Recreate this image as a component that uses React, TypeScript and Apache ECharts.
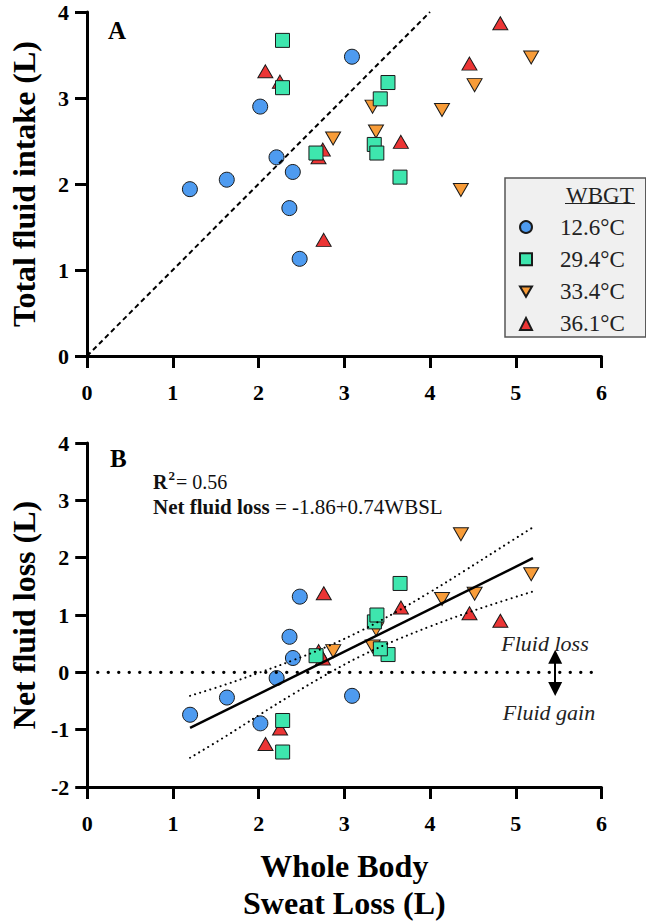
import React, { useEffect, useRef } from 'react';
import * as echarts from 'echarts';

const FONT = 'Liberation Serif, Times New Roman, serif';

// WBGT groups
const groups = ['12.6°C', '29.4°C', '33.4°C', '36.1°C'];
const groupColors = ['#4E9BF0', '#3EE6AE', '#F89C38', '#EC3535'];

// 12.6 °C
const sweat126 = [1.2, 1.63, 2.02, 2.21, 2.4, 2.36, 2.48, 3.09];
const intake126 = [1.94, 2.05, 2.9, 2.31, 2.14, 1.72, 1.13, 3.48];
const net126 = [-0.74, -0.44, -0.89, -0.1, 0.25, 0.62, 1.32, -0.41];
// 29.4 °C
const sweat294 = [2.28, 2.28, 2.67, 3.51, 3.42, 3.35, 3.38, 3.65];
const intake294 = [3.67, 3.12, 2.36, 3.18, 2.99, 2.46, 2.36, 2.08];
const net294 = [-1.39, -0.84, 0.29, 0.31, 0.41, 0.88, 1.0, 1.55];
// 33.4 °C
const sweat334 = [2.87, 3.33, 3.37, 4.14, 4.36, 4.52, 5.18];
const intake334 = [2.53, 2.9, 2.61, 2.86, 1.93, 3.15, 3.47];
const net334 = [0.37, 0.45, 0.75, 1.28, 2.41, 1.37, 1.71];
// 36.1 °C
const sweat361 = [2.08, 2.25, 2.7, 2.75, 2.76, 3.66, 4.46, 4.82];
const intake361 = [3.31, 3.19, 2.31, 2.4, 1.35, 2.49, 3.4, 3.87];
const net361 = [-1.25, -0.98, 0.37, 0.24, 1.38, 1.13, 1.03, 0.9];

// identity line (panel A)
const identityX = [0, 4];
const identityY = [0, 4];

// regression line and 95% band (panel B)
const fitX = [1.2, 5.2];
const fitY = [-0.97, 1.99];
const bandX = [1.2, 1.6, 2.0, 2.4, 2.8, 3.2, 3.6, 4.0, 4.4, 4.8, 5.2];
const bandUpper = [-0.41, -0.22, -0.01, 0.21, 0.45, 0.73, 1.05, 1.4, 1.77, 2.15, 2.53];
const bandLower = [-1.49, -1.13, -0.75, -0.38, -0.03, 0.29, 0.56, 0.8, 1.02, 1.22, 1.41];

// zero reference line and arrow (panel B)
const zeroX = [0, 5.92];
const zeroY = [0, 0];
const arrowX = 5.46;
const arrowY = [0.27, -0.29];

// axes
const xTicks = { min: 0, max: 6, interval: 1 };
const yTicksA = { min: 0, max: 4, interval: 1 };
const yTicksB = { min: -2, max: 4, interval: 1 };

const pairs = (xs: number[], ys: number[]) => xs.map((x, i) => [x, ys[i]]);

const DOWN_TRI = 'path://M0,0L10,0L5,8.66Z';

const symbolFor = [
  { symbol: 'circle', size: 15 },
  { symbol: 'rect', size: 14 },
  { symbol: DOWN_TRI, size: [15, 13] },
  { symbol: 'triangle', size: [15, 13] },
];

function scatter(g: number, idx: number, xs: number[], ys: number[]) {
  return {
    type: 'scatter',
    name: groups[g],
    xAxisIndex: idx,
    yAxisIndex: idx,
    data: pairs(xs, ys),
    symbol: symbolFor[g].symbol,
    symbolSize: symbolFor[g].size,
    itemStyle: { color: groupColors[g], borderColor: '#1a1a1a', borderWidth: 1, opacity: 1 },
    emphasis: { disabled: true },
    z: 2,
  };
}

function axisCommon() {
  return {
    type: 'value',
    axisLine: { show: true, onZero: false, lineStyle: { color: '#000', width: 3 } },
    axisTick: { show: true, inside: false, length: 12, lineStyle: { color: '#000', width: 3 } },
    splitLine: { show: false },
  };
}

const xLabel = { fontFamily: FONT, fontWeight: 'bold', fontSize: 22, color: '#000', margin: 25 };
const yLabel = { fontFamily: FONT, fontWeight: 'bold', fontSize: 22, color: '#000', margin: 18 };
const titleStyle = { fontFamily: FONT, fontWeight: 'bold', fontSize: 32, color: '#000' };

const txt = (text: string, x: number, y: number, font: string, align = 'left', fill = '#111') => ({
  type: 'text',
  z: 100,
  x,
  y,
  style: { text, font, fill, align, verticalAlign: 'middle', textAlign: align, textVerticalAlign: 'middle' },
});

function buildOption() {
  return {
    animation: false,
    backgroundColor: '#fff',
    textStyle: { fontFamily: FONT },
    grid: [
      { left: 85.5, top: 12, width: 516, height: 344 },
      { left: 85.5, top: 443, width: 516, height: 344 },
    ],
    xAxis: [
      { ...axisCommon(), gridIndex: 0, ...xTicks, axisLabel: xLabel },
      {
        ...axisCommon(),
        gridIndex: 1,
        ...xTicks,
        axisLabel: xLabel,
        name: 'Whole Body\nSweat Loss (L)',
        nameLocation: 'middle',
        nameGap: 60,
        nameTextStyle: { ...titleStyle, lineHeight: 37 },
      },
    ],
    yAxis: [
      {
        ...axisCommon(),
        gridIndex: 0,
        ...yTicksA,
        axisLabel: yLabel,
        name: 'Total fluid intake (L)',
        nameLocation: 'middle',
        nameGap: 47,
        nameTextStyle: titleStyle,
      },
      {
        ...axisCommon(),
        gridIndex: 1,
        ...yTicksB,
        axisLabel: yLabel,
        name: 'Net fluid loss (L)',
        nameLocation: 'middle',
        nameGap: 47,
        nameTextStyle: titleStyle,
      },
    ],
    legend: {
      orient: 'vertical',
      left: 505,
      top: 178,
      data: groups,
      itemWidth: 12,
      itemHeight: 12,
      itemGap: 8.3,
      padding: [37, 21, 1, 14],
      backgroundColor: '#f0f0f0',
      borderColor: '#555',
      borderWidth: 1.5,
      borderRadius: 0,
      selectedMode: false,
      textStyle: { fontFamily: FONT, fontSize: 23, color: '#222', lineHeight: 24, padding: [0, 0, 0, 23] },
    },
    series: [
      // panel A
      scatter(3, 0, sweat361, intake361),
      scatter(2, 0, sweat334, intake334),
      scatter(0, 0, sweat126, intake126),
      scatter(1, 0, sweat294, intake294),
      {
        type: 'line',
        name: 'identity',
        xAxisIndex: 0,
        yAxisIndex: 0,
        data: pairs(identityX, identityY),
        symbol: 'none',
        silent: true,
        z: 5,
        lineStyle: { color: '#000', width: 2, type: [5, 3.5] },
      },
      // panel B
      scatter(3, 1, sweat361, net361),
      scatter(2, 1, sweat334, net334),
      scatter(0, 1, sweat126, net126),
      scatter(1, 1, sweat294, net294),
      {
        type: 'line',
        name: 'fit',
        xAxisIndex: 1,
        yAxisIndex: 1,
        data: pairs(fitX, fitY),
        symbol: 'none',
        silent: true,
        z: 5,
        lineStyle: { color: '#000', width: 2.5 },
      },
      {
        type: 'line',
        name: 'upper95',
        xAxisIndex: 1,
        yAxisIndex: 1,
        data: pairs(bandX, bandUpper),
        smooth: 0.4,
        symbol: 'none',
        silent: true,
        z: 5,
        lineStyle: { color: '#000', width: 2, type: [0.1, 5.2], cap: 'round' },
      },
      {
        type: 'line',
        name: 'lower95',
        xAxisIndex: 1,
        yAxisIndex: 1,
        data: pairs(bandX, bandLower),
        smooth: 0.4,
        symbol: 'none',
        silent: true,
        z: 5,
        lineStyle: { color: '#000', width: 2, type: [0.1, 5.2], cap: 'round' },
      },
      {
        type: 'line',
        name: 'zero',
        xAxisIndex: 1,
        yAxisIndex: 1,
        data: pairs(zeroX, zeroY),
        symbol: 'none',
        silent: true,
        z: 5,
        lineStyle: { color: '#000', width: 3.3, type: [0.1, 10.4], cap: 'round' },
        markLine: {
          silent: true,
          animation: false,
          symbol: ['triangle', 'triangle'],
          symbolSize: [14, 14],
          label: { show: false },
          lineStyle: { color: '#000', width: 2, type: 'solid' },
          data: [[{ coord: [arrowX, arrowY[0]] }, { coord: [arrowX, arrowY[1]] }]],
        },
      },
    ],
    graphic: [
      txt('A', 108, 30, `bold 25px ${FONT}`, 'left', '#000'),
      txt('B', 110, 458, `bold 25px ${FONT}`, 'left', '#000'),
      txt('R', 153, 482, `bold 20px ${FONT}`),
      txt('2', 168.5, 475, `bold 13px ${FONT}`),
      txt('= 0.56', 176, 482, `20px ${FONT}`),
      {
        type: 'text',
        z: 100,
        x: 153,
        y: 507,
        style: {
          text: '{b|Net fluid loss}{r| = -1.86+0.74WBSL}',
          align: 'left',
          verticalAlign: 'middle',
          textAlign: 'left',
          textVerticalAlign: 'middle',
          rich: {
            b: { fontFamily: FONT, fontWeight: 'bold', fontSize: 21, fill: '#111', color: '#111' },
            r: { fontFamily: FONT, fontSize: 21, fill: '#111', color: '#111' },
          },
        },
      },
      txt('Fluid loss', 545, 643, `italic 22px ${FONT}`, 'center', '#222'),
      txt('Fluid gain', 549, 712, `italic 22px ${FONT}`, 'center', '#222'),
      txt('WBGT', 566, 195, `23px ${FONT}`, 'left', '#222'),
      {
        type: 'line',
        z: 100,
        shape: { x1: 565, y1: 203.5, x2: 635, y2: 203.5 },
        style: { stroke: '#222', lineWidth: 1.2 },
      },
    ],
  };
}

export default function App() {
  const ref = useRef<HTMLDivElement>(null);
  useEffect(() => {
    document.body.style.margin = '0';
    const chart = echarts.init(ref.current as HTMLDivElement, undefined, { renderer: 'svg' });
    chart.setOption(buildOption() as any);
    return () => chart.dispose();
  }, []);
  return <div ref={ref} style={{ width: 646, height: 923, position: 'absolute', left: 0, top: 0 }} />;
}
